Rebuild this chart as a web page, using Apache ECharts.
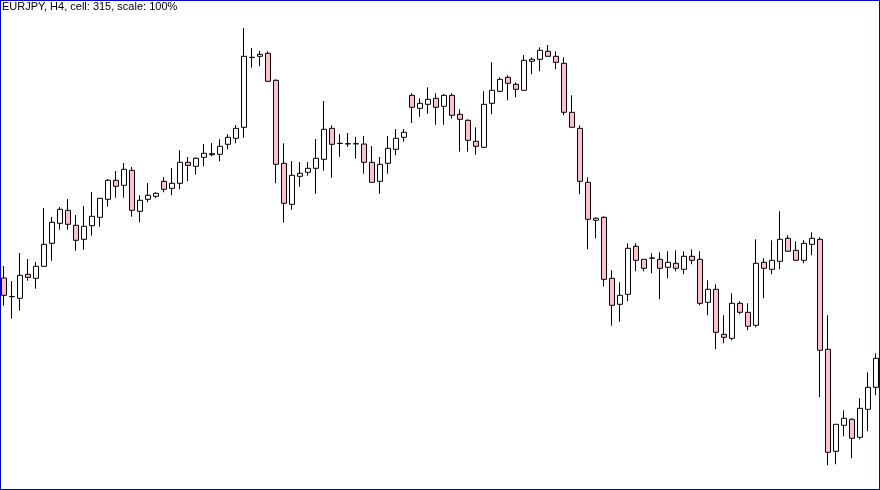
<!DOCTYPE html>
<html>
<head>
<meta charset="utf-8">
<script src="https://cdn.jsdelivr.net/npm/echarts@6/dist/echarts.min.js"></script>
<style>
html,body{margin:0;padding:0;background:#fff;}
#wrap{position:relative;width:880px;height:490px;}
#chart{position:absolute;left:0;top:0;width:880px;height:490px;}
#frame{position:absolute;left:0;top:0;width:880px;height:490px;box-sizing:border-box;border:1px solid #0000c0;pointer-events:none;}
</style>
</head>
<body>
<div id="wrap"><div id="chart"></div><div id="frame"></div></div>
<script>
var titleText = 'EURJPY, H4, cell: 315, scale: 100%';
var opens = [212.0,193.5,191.7,215.7,211.7,223.7,246.7,266.7,279.7,264.7,250.7,264.3,272.7,290.7,309.7,304.7,319.7,278.7,290.7,293.7,
308.7,301.7,306.7,327.7,323.7,332.7,335.3,335.7,345.7,351.7,362.7,432.5,433.7,436.7,409.7,326.7,285.7,313.7,317.7,321.7,
330.7,361.7,346.5,346.1,346.1,346.0,327.7,308.7,326.7,340.7,352.7,394.7,381.7,385.7,391.7,383.7,394.7,375.7,369.7,348.7,
342.7,386.7,398.7,412.7,405.7,399.7,428.7,430.7,438.7,433.7,426.7,377.7,361.7,307.7,269.7,272.7,211.7,185.7,195.7,243.7,
230.7,231.8,230.7,222.7,226.7,220.7,233.7,230.7,187.7,200.7,155.7,151.7,186.7,177.7,164.7,227.7,220.7,228.7,251.7,239.7,
229.7,245.7,250.7,140.7,38.7,64.7,70.7,52.7,80.7,102.7];
var closes = [194.7,193.3,214.7,212.7,223.7,245.7,267.7,280.7,265.7,249.7,263.7,273.7,291.7,309.7,303.7,320.7,279.7,289.7,294.7,296.7,
300.7,306.7,327.7,324.7,331.7,336.7,336.3,343.7,352.7,361.7,433.7,432.7,435.7,408.7,325.7,286.7,314.7,316.7,321.7,331.7,
360.7,345.7,346.7,346.3,346.3,327.7,307.7,325.7,341.7,351.7,357.7,382.7,386.7,390.7,382.7,394.7,374.7,370.7,349.7,343.7,
385.7,399.7,410.7,406.7,400.7,429.7,430.7,439.7,433.7,427.7,377.7,362.7,308.7,270.7,271.7,210.7,184.7,194.7,241.7,229.7,
221.7,232.0,221.7,227.7,221.7,233.7,229.7,186.7,200.7,157.7,152.7,186.7,177.7,163.7,226.7,221.7,229.7,250.7,238.7,229.7,
246.7,251.7,139.7,37.7,65.7,71.7,51.7,81.7,102.7,131.7];
var lows = [184.3,171.3,179.3,209.3,201.3,223.3,229.3,260.3,260.3,239.3,240.3,254.3,263.3,283.3,292.3,292.3,273.3,267.7,287.7,291.7,
297.7,294.7,300.7,308.7,315.3,323.7,333.7,328.7,340.7,346.7,352.3,422.3,423.7,408.7,306.7,267.3,280.3,303.3,314.3,296.3,
319.3,312.3,333.3,343.3,331.3,316.3,307.7,296.3,316.3,334.7,348.3,367.0,373.3,376.3,365.3,365.3,371.3,338.3,338.3,335.3,
341.7,375.7,397.7,389.7,392.7,399.7,415.7,418.7,433.7,420.7,374.7,362.7,295.7,240.7,251.7,203.5,164.3,168.3,188.7,218.7,
218.7,216.7,190.7,211.7,218.7,215.7,225.7,184.7,174.7,140.7,146.7,149.7,175.7,159.7,162.7,191.7,215.7,220.7,238.7,229.7,
226.7,234.7,92.7,24.7,25.7,53.7,31.7,50.7,58.7,94.7];
var highs = [224.0,209.0,237.0,231.0,228.0,282.0,273.0,283.0,291.0,275.0,284.0,298.0,292.0,311.0,319.0,327.0,323.0,294.7,307.0,297.7,
313.0,322.0,339.7,333.0,332.7,346.0,347.0,350.7,355.7,365.0,462.0,442.0,439.0,438.7,410.7,346.7,329.0,328.0,328.0,351.0,
389.0,364.7,356.0,357.0,353.3,354.0,344.0,333.0,354.0,361.0,361.0,396.7,391.7,402.7,396.7,396.0,396.7,380.7,370.7,362.7,
398.7,427.7,412.7,414.7,407.7,435.0,432.7,442.7,445.0,438.7,432.7,394.7,364.7,312.7,272.7,273.7,219.7,207.7,246.7,246.7,
230.7,236.7,237.7,238.7,239.7,238.7,240.7,238.7,209.7,205.7,174.7,196.7,188.7,186.7,250.7,231.7,249.7,278.7,254.7,248.7,
249.7,257.7,252.7,174.7,65.7,79.7,71.7,91.7,117.7,136.7];
var categories = opens.map(function (_, i) { return 'C' + (i + 1); });
var ohlc = opens.map(function (o, i) { return [o, closes[i], lows[i], highs[i]]; });

var chart = echarts.init(document.getElementById('chart'), null, {renderer: 'canvas'});
chart.setOption({
  animation: false,
  backgroundColor: '#ffffff',
  title: {
    text: titleText, left: 2, top: 1, padding: 0,
    textStyle: {fontSize: 11, fontWeight: 'normal', color: '#000', fontFamily: 'Liberation Sans, Arial, sans-serif'}
  },
  grid: {left: 0, right: 0, top: 0, bottom: 0},
  xAxis: {
    type: 'category', data: categories, boundaryGap: true,
    axisLine: {show: false}, axisTick: {show: false}, axisLabel: {show: false}, splitLine: {show: false}
  },
  yAxis: {
    type: 'value', min: 0, max: 490, scale: false,
    axisLine: {show: false}, axisTick: {show: false}, axisLabel: {show: false}, splitLine: {show: false}
  },
  series: [{
    type: 'candlestick',
    data: ohlc,
    barWidth: 5,
    itemStyle: {
      color: '#ffffff', color0: '#ffc0cb',
      borderColor: '#000000', borderColor0: '#000000', borderColorDoji: '#000000', borderWidth: 1
    }
  }]
});
</script>
</body>
</html>
